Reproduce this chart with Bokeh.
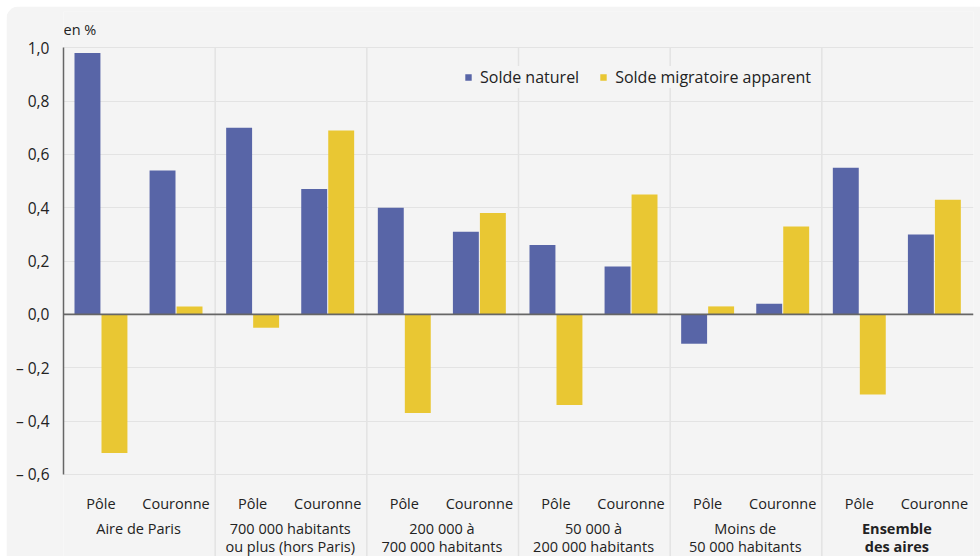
from bokeh.plotting import figure
from bokeh.models import FixedTicker, Legend, LegendItem
from bokeh.core.properties import value
from bokeh.embed import file_html
from bokeh.resources import INLINE

# ---- data ----
groups_line1 = ["Aire de Paris", "700 000 habitants", "200 000 à", "50 000 à", "Moins de", "Ensemble"]
groups_line2 = ["", "ou plus (hors Paris)", "700 000 habitants", "200 000 habitants", "50 000 habitants", "des aires"]
zones = ["Pôle", "Couronne"]
solde_naturel_pole = [0.98, 0.70, 0.40, 0.26, -0.11, 0.55]
solde_naturel_couronne = [0.54, 0.47, 0.31, 0.18, 0.04, 0.30]
solde_migratoire_pole = [-0.52, -0.05, -0.37, -0.34, 0.03, -0.30]
solde_migratoire_couronne = [0.03, 0.69, 0.38, 0.45, 0.33, 0.43]
y_ticks = [-0.6, -0.4, -0.2, 0.0, 0.2, 0.4, 0.6, 0.8, 1.0]
y_labels = ["– 0,6", "– 0,4", "– 0,2", "0,0", "0,2", "0,4", "0,6", "0,8", "1,0"]

BLUE = "#5865A7"
YELLOW = "#E9C733"
BG = "#F4F4F4"
FONT = "Open Sans"
TXT = "#222222"
FS = "14.5px"

n = len(groups_line1)
zone_off = [0.247, 0.742]
dodge = 0.089
bw = 0.171
Y0, Y1 = -0.908, 1.136

p = figure(width=974, height=550, x_range=(0, n), y_range=(Y0, Y1),
           x_axis_type=None, output_backend="svg", toolbar_location=None,
           min_border_left=57, min_border_right=7, min_border_top=5, min_border_bottom=0)
p.margin = (6, 0, 0, 6)
p.background_fill_color = BG
p.border_fill_color = BG
p.outline_line_color = None
p.styles = {"border-radius": "14px 0 0 0", "overflow": "hidden"}

# grid
p.xgrid.visible = False
p.ygrid.ticker = FixedTicker(ticks=y_ticks)
p.ygrid.grid_line_color = "#E3E3E3"
p.ygrid.grid_line_width = 1.2

# separators between groups
p.segment(x0=list(range(1, n)), x1=list(range(1, n)), y0=1.0, y1=Y0,
          line_color="#E3E3E3", line_width=1.5)

# bars
xs_sn = [g + zone_off[0] - dodge for g in range(n)] + [g + zone_off[1] - dodge for g in range(n)]
xs_sm = [g + zone_off[0] + dodge for g in range(n)] + [g + zone_off[1] + dodge for g in range(n)]
r1 = p.vbar(x=xs_sn, top=solde_naturel_pole + solde_naturel_couronne, bottom=0, width=bw,
            fill_color=BLUE, line_color=None)
r2 = p.vbar(x=xs_sm, top=solde_migratoire_pole + solde_migratoire_couronne, bottom=0, width=bw,
            fill_color=YELLOW, line_color=None)

# zero line
p.segment(x0=[0], x1=[n], y0=[0], y1=[0], line_color="#666666", line_width=1.6)

# y axis
ax = p.yaxis[0]
ax.ticker = FixedTicker(ticks=y_ticks)
ax.major_label_overrides = {t: l for t, l in zip(y_ticks, y_labels)}
ax.bounds = (-0.6, 1.0)
ax.axis_line_color = "#666666"
ax.axis_line_width = 1.5
ax.major_tick_line_color = None
ax.minor_tick_line_color = None
ax.major_label_standoff = 8
ax.major_label_text_font = FONT
ax.major_label_text_font_size = "15.5px"
ax.major_label_text_color = TXT

# unit label
p.text(x=[0], y=[1.068], text=["en %"], text_font=value(FONT), text_font_size=FS,
       text_color=TXT, text_align="left", text_baseline="middle")

# category labels
zx = [g + zone_off[i] for g in range(n) for i in range(2)]
zt = [zones[i] for g in range(n) for i in range(2)]
p.text(x=zx, y=-0.709, text=zt, text_font=value(FONT), text_font_size=FS,
       text_color=TXT, text_align="center", text_baseline="middle")

gx = [g + 0.495 for g in range(n - 1)]
p.text(x=gx, y=-0.803, text=groups_line1[:-1], text_font=value(FONT), text_font_size=FS,
       text_color=TXT, text_align="center", text_baseline="middle")
p.text(x=gx, y=-0.872, text=groups_line2[:-1], text_font=value(FONT), text_font_size=FS,
       text_color=TXT, text_align="center", text_baseline="middle")
p.text(x=[n - 1 + 0.495] * 2, y=[-0.803, -0.872], text=[groups_line1[-1], groups_line2[-1]],
       text_font=value(FONT), text_font_size=FS, text_font_style="bold",
       text_color=TXT, text_align="center", text_baseline="middle")

legend = Legend(items=[LegendItem(label="Solde naturel", renderers=[r1]),
                       LegendItem(label="Solde migratoire apparent", renderers=[r2])],
                location=(401, 468), orientation="horizontal")
legend.background_fill_color = BG
legend.background_fill_alpha = 1.0
legend.border_line_color = None
legend.label_text_font = FONT
legend.label_text_font_size = "16px"
legend.label_text_color = TXT
legend.glyph_width = 8
legend.glyph_height = 8
legend.label_standoff = 8
legend.spacing = 20
legend.padding = 6
legend.margin = 0
p.add_layout(legend, "center")

open("out.html", "w").write(file_html(p, INLINE))
